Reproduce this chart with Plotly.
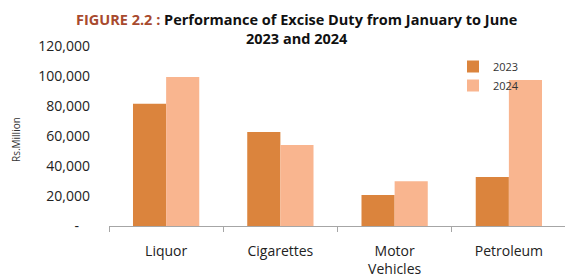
import plotly.graph_objects as go

categories = ["Liquor", "Cigarettes", "Motor<br>Vehicles", "Petroleum"]
values_2023 = [81500, 62700, 20700, 32700]
values_2024 = [99300, 54000, 29800, 97300]
series_names = ["2023", "2024"]
ytick_vals = [0, 20000, 40000, 60000, 80000, 100000, 120000]
ytick_text = ["-\u00a0\u00a0\u00a0", "20,000", "40,000", "60,000", "80,000", "100,000", "120,000"]

FONT = "Open Sans"
O = 8  # default page body margin
W, H = 573 - O, 279 - O
# target plot box in page pixels
PX0, PX1, PY0, PY1 = 109, 566, 46, 226
L, R, T, B = PX0 - O, W - (PX1 - O), PY0 - O, H - (PY1 - O)
pw = PX1 - PX0
ph = PY1 - PY0


def px(x):
    return (x - PX0) / pw


def py(y):
    return (PY1 - y) / ph


fig = go.Figure()
fig.add_trace(go.Bar(x=categories, y=values_2023, name=series_names[0],
                     marker=dict(color="#DB843D", line=dict(width=0))))
fig.add_trace(go.Bar(x=categories, y=values_2024, name=series_names[1],
                     marker=dict(color="#F9B58F", line=dict(width=0))))

fig.update_layout(
    width=W, height=H,
    margin=dict(l=L, r=R, t=T, b=B, pad=0, autoexpand=False),
    paper_bgcolor="white", plot_bgcolor="white",
    barmode="group", bargap=0.42, bargroupgap=0,
    font=dict(family=FONT, color="#222222"),
    showlegend=True,
    legend=dict(x=px(453), y=py(52), xanchor="left", yanchor="top",
                font=dict(size=11, family=FONT, color="#333333"),
                bgcolor="rgba(0,0,0,0)", itemwidth=30, tracegroupgap=2),
    xaxis=dict(showline=True, linecolor="#A6A6A6", linewidth=1.3, automargin=False,
               ticks="outside", tickson="boundaries", ticklen=5, tickcolor="#A6A6A6",
               tickfont=dict(size=14, family=FONT, color="#222222"),
               ticklabelstandoff=12, showgrid=False),
    yaxis=dict(range=[0, 120000], tickvals=ytick_vals, ticktext=ytick_text, automargin=False,
               showline=False, showgrid=False, zeroline=False, ticks="",
               tickfont=dict(size=14, family=FONT, color="#222222"),
               ticklabelstandoff=18),
)

fig.add_annotation(
    xref="paper", yref="paper",
    x=px(296), y=py(8), xanchor="center", yanchor="top",
    text="<b><span style='color:#A84A2E'>FIGURE 2.2 :</span> Performance of Excise Duty from January to June<br>2023 and 2024</b>",
    showarrow=False, font=dict(size=14.5, family=FONT, color="#111111"), align="center",
)
fig.add_annotation(
    xref="paper", yref="paper",
    x=px(16), y=py(140), xanchor="center", yanchor="middle",
    text="Rs.Million", textangle=-90, showarrow=False,
    font=dict(size=10, family=FONT, color="#333333"),
)

fig.write_html("out.html")
